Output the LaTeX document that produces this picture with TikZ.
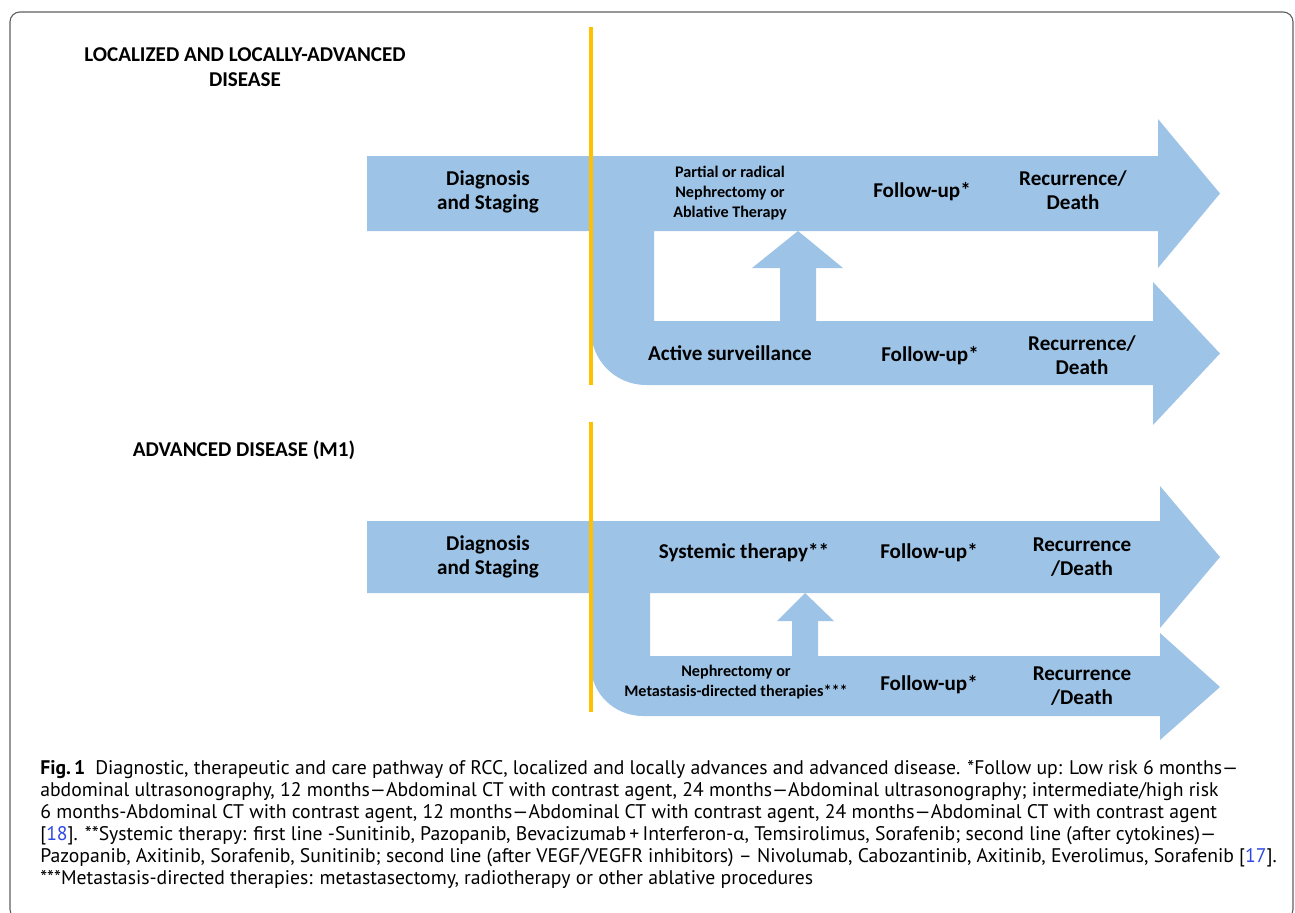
\documentclass[tikz,border=0pt]{standalone}
\usepackage{fontspec}
\setmainfont{Carlito}
\newfontfamily\capfont{PT Sans}
\usetikzlibrary{positioning}
\definecolor{flowblue}{RGB}{157,195,230}
\definecolor{lineyellow}{RGB}{255,192,0}
\definecolor{framegray}{RGB}{95,95,95}
\definecolor{refblue}{RGB}{45,70,230}

\begin{document}
\begin{tikzpicture}[
    x=0.025cm, y=-0.025cm,
    band/.style={fill=flowblue, draw=none},
    divider/.style={draw=lineyellow, line width=2.5pt},
    label/.style={font=\bfseries\fontsize{15}{17.5}\selectfont, align=center, inner sep=0pt},
    small/.style={font=\bfseries\fontsize{11.5}{14.2}\selectfont, align=center, inner sep=0pt},
    heading/.style={font=\bfseries\fontsize{15}{18}\selectfont, align=center, inner sep=0pt},
    caption/.style={font=\capfont\fontsize{14}{15.6}\selectfont, align=left, inner sep=0pt},
    frame/.style={draw=framegray, line width=0.8pt, rounded corners=7pt}
]
\useasboundingbox (0,0) rectangle (1295,913);

% Outer frame
\draw[frame] (10,12) rectangle (1293,919);

% Localized and locally-advanced disease
\fill[band] (367,156) -- (1158,156) -- (1158,119) -- (1220,193.5) -- (1158,268) -- (1158,231)
    -- (654,231) -- (654,321) -- (1153,321) -- (1153,282) -- (1220,353.5) -- (1153,425)
    -- (1153,385) -- (646,385) .. controls (615.6,385) and (591,360.4) .. (591,330)
    -- (591,231) -- (367,231) -- cycle;
\fill[band] (780,322) -- (780,268) -- (752,268) -- (798,231) -- (843,268) -- (816,268) -- (816,322) -- cycle;
\draw[divider] (591,27) -- (591,385);

\node[heading] (locTitle) at (245,67) {LOCALIZED AND LOCALLY-ADVANCED\\DISEASE};
\node[label] (diagA) at (488,192) {Diagnosis\\and Staging};
\node[small] (surgA) at (730,193) {Partial or radical\\Nephrectomy or\\Ablative Therapy};
\node[label] (followA1) at (922,192) {Follow-up*};
\node[label] (recA1) at (1073,190) {Recurrence/\\Death};
\node[label] (survA) at (730,353) {Active surveillance};
\node[label] (followA2) at (930,356) {Follow-up*};
\node[label] (recA2) at (1082,355) {Recurrence/\\Death};

% Advanced disease (M1)
\fill[band] (367,521) -- (1160,521) -- (1160,486) -- (1220,557) -- (1160,628) -- (1160,593)
    -- (650,593) -- (650,656) -- (1160,656) -- (1160,633) -- (1220,687) -- (1160,740)
    -- (1160,716) -- (643,716) .. controls (614,716) and (591,693) .. (591,666)
    -- (591,593) -- (367,593) -- cycle;
\fill[band] (792,657) -- (792,621) -- (777,621) -- (805,593) -- (834,621) -- (818,621) -- (818,657) -- cycle;
\draw[divider] (591,422) -- (591,712);

\node[heading] (advTitle) at (244,450) {ADVANCED DISEASE (M1)};
\node[label] (diagB) at (488,557) {Diagnosis\\and Staging};
\node[label] (sysB) at (744,553) {Systemic therapy**};
\node[label] (followB1) at (929,553) {Follow-up*};
\node[label] (recB1) at (1082,557) {Recurrence\\/Death};
\node[small] (nephB) at (736,682) {Nephrectomy or\\Metastasis-directed therapies***};
\node[label] (followB2) at (929,685) {Follow-up*};
\node[label] (recB2) at (1082,686) {Recurrence\\/Death};

% Caption
\node[caption, anchor=north west] (cap) at (40,760) {{\bfseries Fig.\,1}\enspace Diagnostic, therapeutic and care pathway of RCC, localized and locally advances and advanced disease. *Follow up: Low risk 6 months—\\
abdominal ultrasonography, 12 months—Abdominal CT with contrast agent, 24 months—Abdominal ultrasonography; intermediate/high risk\\
6 months-Abdominal CT with contrast agent, 12 months—Abdominal CT with contrast agent, 24 months—Abdominal CT with contrast agent\\{}%
[{\color{refblue}18}]. **Systemic therapy: first line -Sunitinib, Pazopanib, Bevacizumab\,+\,Interferon-{\rmfamily α}, Temsirolimus, Sorafenib; second line (after cytokines)—\\
Pazopanib, Axitinib, Sorafenib, Sunitinib; second line (after VEGF/VEGFR inhibitors) – Nivolumab, Cabozantinib, Axitinib, Everolimus, Sorafenib [{\color{refblue}17}].\\
***Metastasis-directed therapies: metastasectomy, radiotherapy or other ablative procedures};

\end{tikzpicture}
\end{document}
